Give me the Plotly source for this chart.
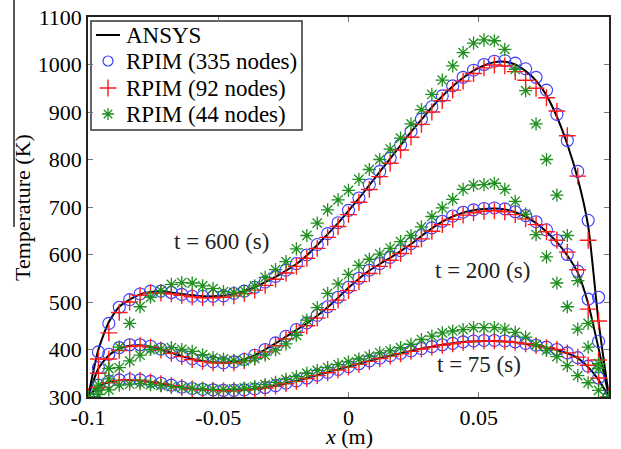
import plotly.graph_objects as go

# ---------------- data ----------------
X = [-0.100, -0.096, -0.092, -0.088, -0.084, -0.080, -0.076, -0.072, -0.068, -0.064,
     -0.060, -0.056, -0.052, -0.048, -0.044, -0.040, -0.036, -0.032, -0.028, -0.024,
     -0.020, -0.016, -0.012, -0.008, -0.004, 0.000, 0.004, 0.008, 0.012, 0.016,
     0.020, 0.024, 0.028, 0.032, 0.036, 0.040, 0.044, 0.048, 0.052, 0.056,
     0.060, 0.064, 0.068, 0.072, 0.076, 0.080, 0.084, 0.088, 0.092, 0.096, 0.100]

ansys_600 = [300, 400, 458, 490, 505, 516, 521, 522, 520, 517,
             514, 512, 512, 513, 517, 523, 531, 542, 553, 566,
             580, 598, 620, 643, 666, 692, 718, 746, 774, 802,
             830, 858, 884, 910, 933, 954, 972, 987, 998, 1005,
             1006, 1000, 986, 966, 935, 890, 832, 760, 660, 458, 300]
ansys_200 = [300, 360, 388, 402, 408, 409, 406, 400, 393, 386,
             380, 376, 373, 372, 374, 379, 388, 400, 413, 427,
             441, 455, 471, 489, 509, 530, 549, 566, 580, 593,
             607, 622, 639, 655, 669, 680, 688, 693, 696, 697,
             695, 689, 680, 666, 648, 626, 598, 562, 497, 402, 300]
ansys_75 = [300, 322, 331, 335, 336, 335, 332, 328, 324, 320,
            318, 316, 315, 314, 314, 315, 317, 320, 324, 329,
            334, 340, 346, 352, 358, 364, 370, 376, 382, 387,
            392, 397, 402, 406, 410, 413, 416, 417, 418, 418,
            417, 415, 412, 408, 404, 399, 392, 382, 363, 336, 300]

rpim335_600 = [300, 395, 455, 489, 505, 517, 523, 523, 520, 516,
               512, 512, 512, 513, 518, 523, 531, 542, 554, 567,
               581, 599, 621, 644, 667, 693, 719, 747, 775, 803,
               831, 859, 885, 911, 934, 955, 973, 988, 1000, 1007,
               1008, 1003, 991, 973, 946, 895, 840, 775, 672, 510, 300]
rpim335_200 = [300, 362, 390, 404, 410, 410, 407, 401, 394, 387,
               381, 377, 374, 372, 374, 379, 388, 400, 414, 428,
               442, 456, 472, 490, 510, 531, 550, 567, 581, 594,
               608, 623, 640, 656, 670, 681, 689, 694, 697, 698,
               696, 690, 682, 669, 652, 630, 600, 565, 506, 417, 300]
rpim335_75 = [300, 325, 333, 336, 337, 336, 333, 329, 325, 321,
              318, 316, 315, 314, 314, 315, 317, 320, 324, 329,
              334, 340, 346, 352, 358, 364, 370, 376, 382, 387,
              392, 397, 402, 406, 410, 413, 416, 418, 419, 419,
              418, 416, 413, 409, 405, 400, 393, 383, 365, 340, 300]

rpim92_600 = [300, 380, 435, 478, 500, 514, 519, 519, 517, 514,
              511, 509, 509, 510, 513, 518, 525, 535, 548, 561,
              575, 592, 613, 636, 659, 684, 710, 737, 764, 792,
              820, 847, 874, 900, 924, 946, 965, 981, 993, 999,
              997, 985, 967, 950, 930, 902, 850, 765, 630, 460, 300]
rpim92_200 = [300, 350, 380, 398, 406, 408, 405, 399, 392, 385,
              379, 375, 372, 371, 372, 376, 384, 395, 408, 422,
              436, 450, 466, 484, 504, 524, 543, 560, 575, 588,
              602, 617, 633, 649, 663, 674, 683, 688, 691, 692,
              690, 684, 675, 663, 648, 630, 605, 568, 485, 378, 300]
rpim92_75 = [300, 320, 330, 335, 336, 335, 332, 328, 324, 320,
             317, 315, 314, 313, 313, 314, 316, 319, 323, 328,
             333, 339, 345, 351, 357, 363, 369, 375, 381, 386,
             391, 396, 401, 405, 409, 412, 415, 417, 418, 418,
             417, 415, 412, 408, 404, 400, 393, 384, 367, 340, 300]

rpim44_600 = [300, 325, 360, 405, 455, 490, 510, 524, 537, 541,
              540, 534, 528, 522, 520, 523, 534, 552, 568, 585,
              612, 640, 666, 694, 715, 735, 758, 779, 800, 822,
              845, 875, 905, 937, 967, 997, 1025, 1045, 1052, 1050,
              1032, 990, 945, 875, 800, 725, 640, 545, 455, 370, 300]
rpim44_200 = [300, 315, 338, 362, 376, 388, 400, 401, 404, 400,
              396, 389, 383, 380, 377, 376, 381, 388, 399, 412,
              430, 462, 488, 518, 538, 558, 577, 590, 601, 613,
              627, 640, 658, 680, 698, 716, 737, 746, 747, 750,
              737, 712, 685, 642, 595, 540, 490, 443, 405, 360, 300]
rpim44_75 = [300, 305, 315, 325, 327, 328, 326, 324, 322, 320,
             318, 317, 316, 316, 317, 319, 322, 326, 331, 337,
             343, 350, 356, 362, 368, 374, 380, 386, 393, 397,
             404, 411, 421, 428, 435, 439, 442, 446, 446, 446,
             443, 436, 426, 410, 398, 385, 366, 345, 330, 314, 300]

x_ticks = [-0.1, -0.05, 0, 0.05, 0.1]
x_tick_labels = ["-0.1", "-0.05", "0", "0.05", "0.1"]
y_ticks = [300, 400, 500, 600, 700, 800, 900, 1000, 1100]

legend_names = ["ANSYS", "RPIM (335 nodes)", "RPIM (92 nodes)", "RPIM (44 nodes)"]
time_labels = ["t = 600 (s)", "t = 200 (s)", "t = 75 (s)"]
time_label_pos = [(-0.0487, 628), (0.0513, 566), (0.0502, 369)]

# ---------------- styling ----------------
FONT = "Liberation Serif"
BLACK = "#000000"
BLUE = "#3a3aff"
RED = "#ff1a1a"
GREEN = "#1f8f1f"

W, H = 621, 449
L, R, T, B = 88, 12, 17, 52  # plot box in pixels: x 88..609, y 17..397
PH = H - T - B

fig = go.Figure()

ansys = [ansys_600, ansys_200, ansys_75]
r335 = [rpim335_600, rpim335_200, rpim335_75]
r92 = [rpim92_600, rpim92_200, rpim92_75]
r44 = [rpim44_600, rpim44_200, rpim44_75]

for ys in ansys:
    fig.add_trace(go.Scatter(x=X, y=ys, mode="lines",
                             line=dict(color=BLACK, width=2, shape="spline", smoothing=0.6),
                             showlegend=False, hoverinfo="skip"))
for ys in r335:
    fig.add_trace(go.Scatter(x=X, y=ys, mode="markers",
                             marker=dict(symbol="circle-open", size=12, color=BLUE,
                                         line=dict(width=1.1, color=BLUE)),
                             showlegend=False, hoverinfo="skip"))
for ys in r92:
    fig.add_trace(go.Scatter(x=X, y=ys, mode="markers",
                             marker=dict(symbol="cross-thin-open", size=12, color=RED,
                                         line=dict(width=1.4, color=RED)),
                             showlegend=False, hoverinfo="skip"))
for ys in r44:
    fig.add_trace(go.Scatter(x=X, y=ys, mode="markers",
                             marker=dict(symbol="asterisk-open", size=11, color=GREEN,
                                         line=dict(width=1.3, color=GREEN)),
                             showlegend=False, hoverinfo="skip"))

# ---- hand-made legend on an overlay axis measured in pixels ----
leg_rows = [35, 61, 88, 114]
fig.add_trace(go.Scatter(x=[96, 120], y=[leg_rows[0], leg_rows[0]], mode="lines",
                         line=dict(color=BLACK, width=2), xaxis="x2", yaxis="y2",
                         showlegend=False, hoverinfo="skip"))
fig.add_trace(go.Scatter(x=[108], y=[leg_rows[1]], mode="markers",
                         marker=dict(symbol="circle-open", size=10, color=BLUE,
                                     line=dict(width=1.2, color=BLUE)),
                         xaxis="x2", yaxis="y2", showlegend=False, hoverinfo="skip"))
fig.add_trace(go.Scatter(x=[108], y=[leg_rows[2]], mode="markers",
                         marker=dict(symbol="cross-thin-open", size=12, color=RED,
                                     line=dict(width=1.4, color=RED)),
                         xaxis="x2", yaxis="y2", showlegend=False, hoverinfo="skip"))
fig.add_trace(go.Scatter(x=[108], y=[leg_rows[3]], mode="markers",
                         marker=dict(symbol="asterisk-open", size=10, color=GREEN,
                                     line=dict(width=1.3, color=GREEN)),
                         xaxis="x2", yaxis="y2", showlegend=False, hoverinfo="skip"))

annotations = []
for name, yy in zip(legend_names, leg_rows):
    annotations.append(dict(x=124, y=yy, xref="x2", yref="y2", text=name, showarrow=False,
                            xanchor="left", yanchor="middle",
                            font=dict(family=FONT, size=23, color=BLACK)))
for txt, (xx, yy) in zip(time_labels, time_label_pos):
    annotations.append(dict(x=xx, y=yy, xref="x", yref="y", text=txt, showarrow=False,
                            xanchor="center", yanchor="middle",
                            font=dict(family=FONT, size=23, color="#222222")))
# axis titles
annotations.append(dict(x=0.5, y=(397 - 436) / PH, xref="paper", yref="paper",
                        text="<i>x</i> (m)", showarrow=False, xanchor="center", yanchor="middle",
                        font=dict(family=FONT, size=22, color=BLACK)))
annotations.append(dict(x=(22 - 88) / 521, y=(397 - 208) / PH, xref="paper", yref="paper",
                        text="Temperature (K)", showarrow=False, textangle=-90,
                        xanchor="center", yanchor="middle",
                        font=dict(family=FONT, size=22, color=BLACK)))

shapes = [
    dict(type="rect", xref="x2", yref="y2", x0=91, x1=302, y0=21, y1=130,
         line=dict(color="#333333", width=1.5), fillcolor="white", layer="below"),
    dict(type="line", xref="paper", yref="paper", x0=(14 - 88) / 521, x1=(14 - 88) / 521,
         y0=(397 - 0) / PH, y1=(397 - 227) / PH, line=dict(color="#222222", width=1.5)),
]

axis_common = dict(showgrid=False, zeroline=False, showline=True, linecolor="#222222",
                   linewidth=1.5, mirror="ticks", ticks="inside", ticklen=5,
                   tickcolor="#777777", tickwidth=1, automargin=False,
                   tickfont=dict(family=FONT, size=22, color=BLACK))

fig.update_layout(
    width=W, height=H,
    margin=dict(l=L, r=R, t=T, b=B, autoexpand=False),
    paper_bgcolor="white", plot_bgcolor="white",
    showlegend=False,
    font=dict(family=FONT),
    xaxis=dict(range=[-0.1, 0.1], tickvals=x_ticks, ticktext=x_tick_labels, **axis_common),
    yaxis=dict(range=[300, 1100], tickvals=y_ticks, **axis_common),
    xaxis2=dict(range=[88, 609], overlaying="x", anchor="y2", visible=False),
    yaxis2=dict(range=[397, 17], overlaying="y", anchor="x2", visible=False),
    annotations=annotations,
    shapes=shapes,
)

fig.write_html("out.html")
